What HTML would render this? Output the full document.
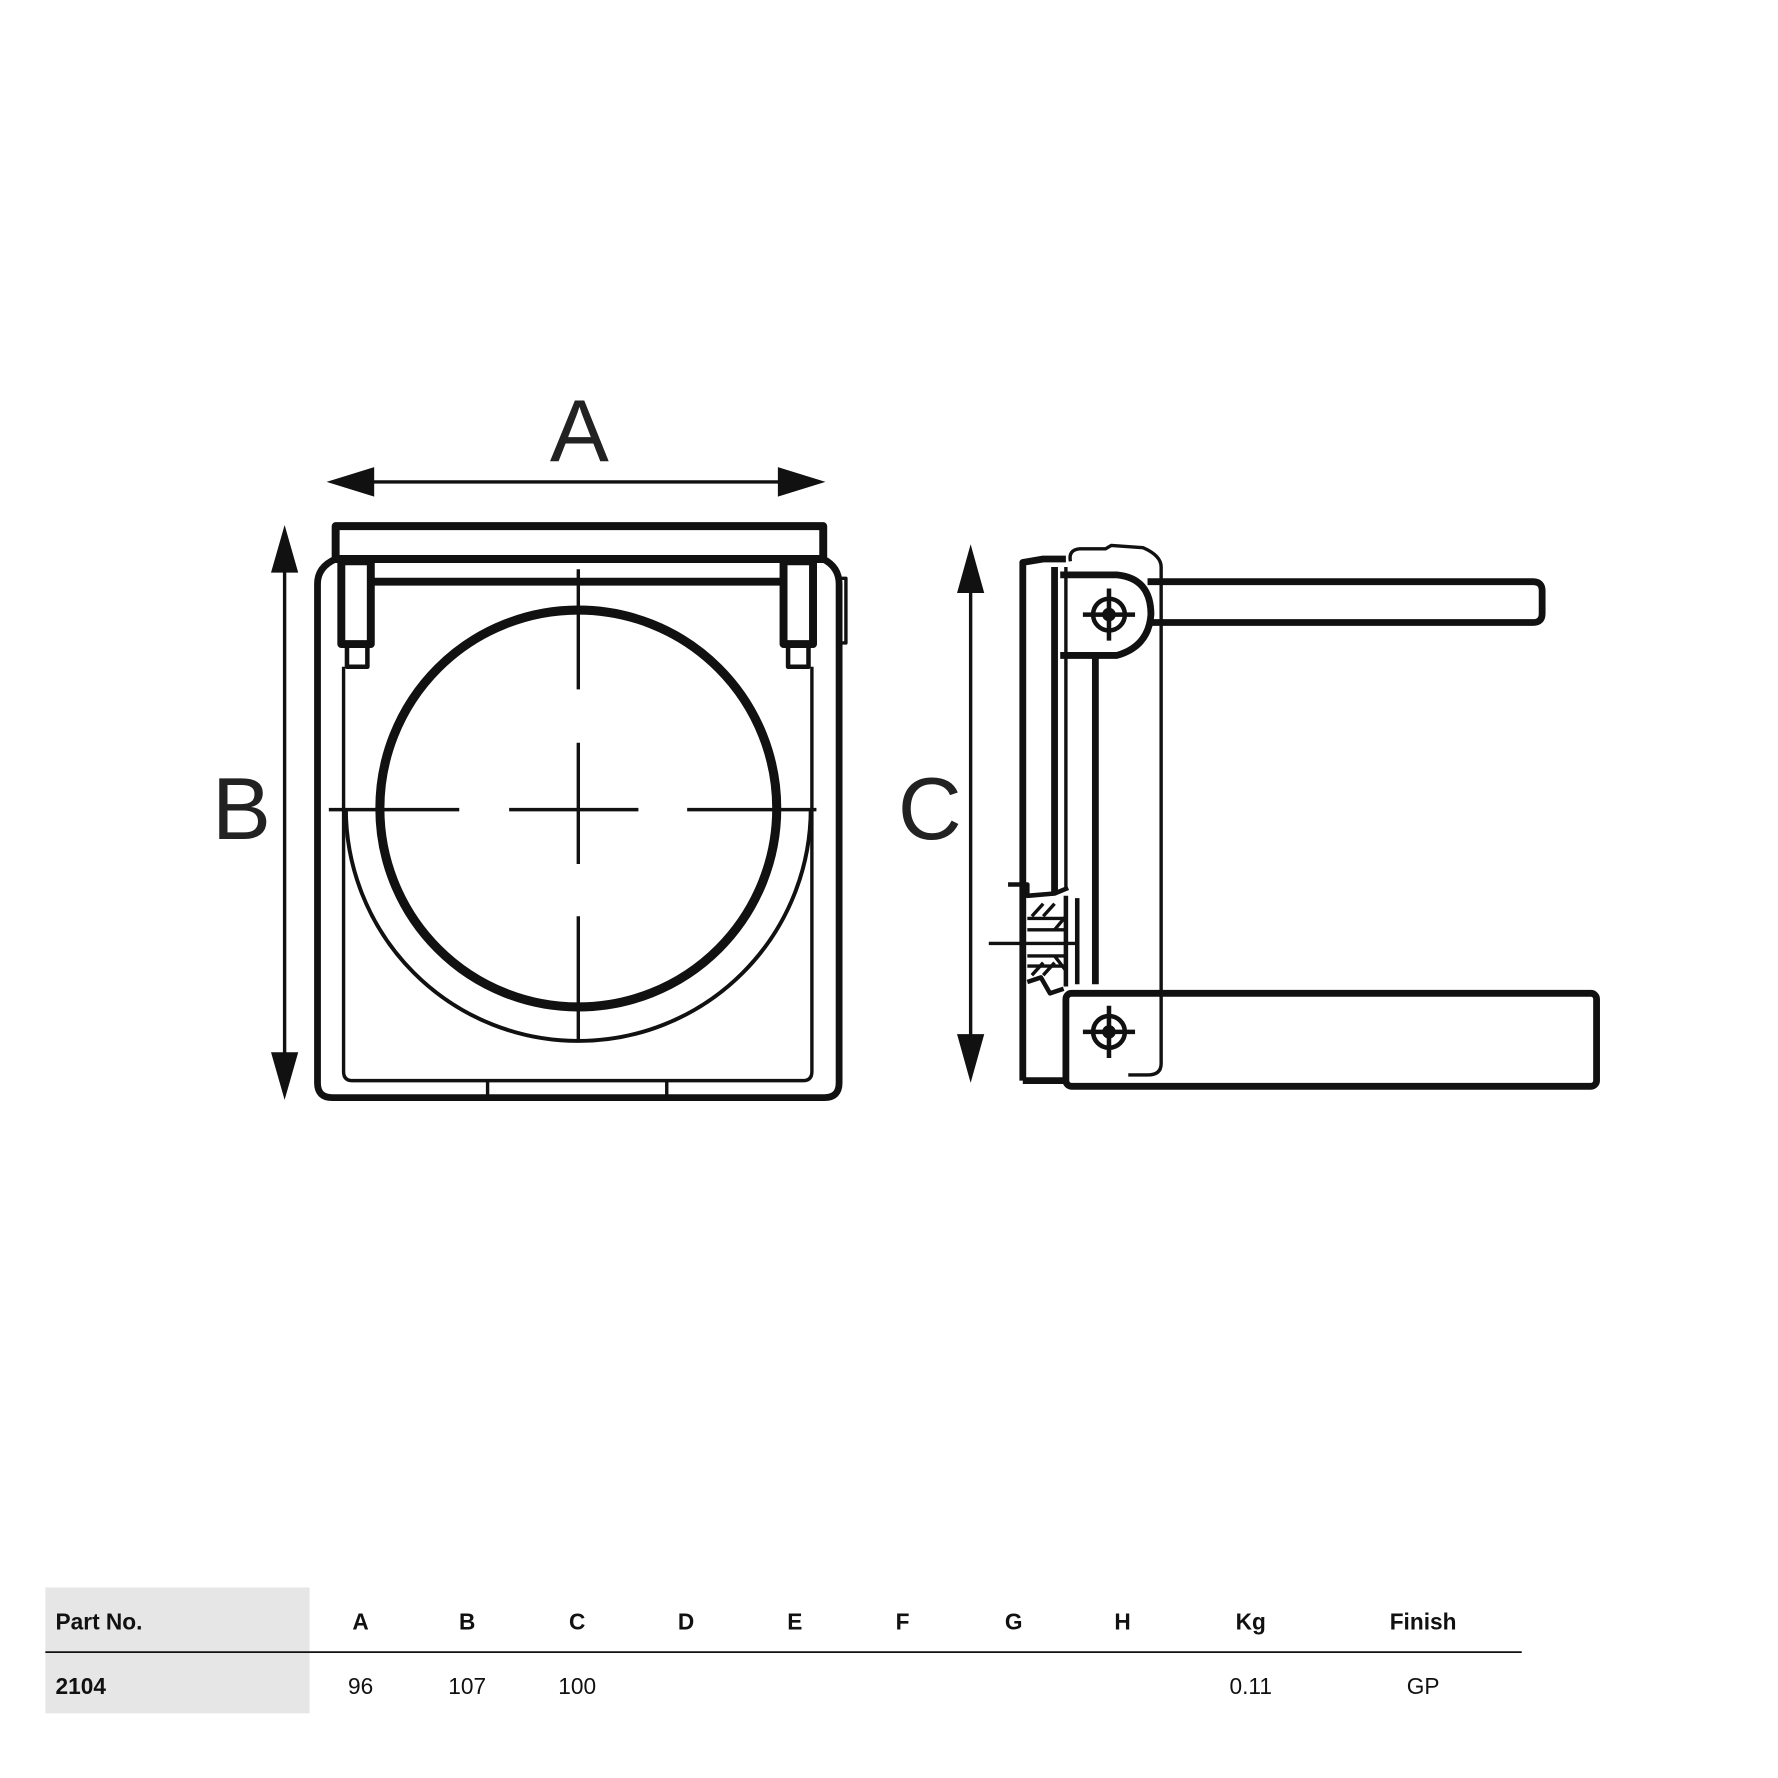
<!DOCTYPE html>
<html><head><meta charset="utf-8"><style>
html,body{margin:0;padding:0;background:#fff;}
svg{display:block;}
</style></head><body>
<svg width="1778" height="1778" viewBox="0 0 1568 1568" xmlns="http://www.w3.org/2000/svg" font-family="Liberation Sans, sans-serif">
<g fill="none" stroke="#111" stroke-linejoin="round">
<line x1="320" y1="425" x2="696" y2="425" stroke-width="3"/>
<line x1="251" y1="495" x2="251" y2="938" stroke-width="3"/>
<line x1="856" y1="515" x2="856" y2="922" stroke-width="3"/>
<rect x="296" y="464" width="430" height="29" stroke-width="7"/>
<path d="M296,493 Q280,500 280,515 L280,955 Q280,968 293,968 L727,968 Q740,968 740,955 L740,515 Q740,500 726,493" stroke-width="6"/>
<rect x="740" y="510" width="6" height="57" stroke-width="3"/>
<path d="M303,588 L303,945 Q303,953 311,953 L708,953 Q716,953 716,945 L716,588" stroke-width="3"/>
<line x1="327" y1="513" x2="690" y2="513" stroke-width="7"/>
<rect x="301" y="495" width="26" height="73" stroke-width="7"/>
<rect x="306" y="568" width="18" height="20" stroke-width="4"/>
<rect x="691" y="495" width="26" height="73" stroke-width="7"/>
<rect x="695" y="568" width="18" height="20" stroke-width="4"/>
<circle cx="510" cy="713" r="175" stroke-width="8"/>
<path d="M305,713 A205,205 0 0 0 715,713" stroke-width="3.5"/>
<g stroke-width="3">
<line x1="290" y1="714" x2="405" y2="714"/><line x1="449" y1="714" x2="563" y2="714"/><line x1="606" y1="714" x2="720" y2="714"/>
<line x1="510" y1="502" x2="510" y2="608"/><line x1="510" y1="655" x2="510" y2="762"/><line x1="510" y1="808" x2="510" y2="918"/>
<line x1="430" y1="953" x2="430" y2="968"/><line x1="588" y1="953" x2="588" y2="968"/>
</g>
<path d="M902,953 L902,496 L920,493 L940,493" stroke-width="6"/>
<line x1="902" y1="953" x2="940" y2="953" stroke-width="6"/>
<path d="M944,495 Q942,485 952,484 L975,484 L980,481 L1008,483 Q1024,490 1024,500 L1024,938 Q1024,948 1012,948 L995,948" stroke-width="3"/>
<line x1="930" y1="500" x2="930" y2="788" stroke-width="6"/>
<line x1="940" y1="500" x2="940" y2="783" stroke-width="3"/>
<path d="M935,507 L985,507 Q1015,510 1015,542 Q1013,570 985,578 L935,578" stroke-width="6"/>
<path d="M1012,513 L1352,513 Q1360,513 1360,521 L1360,541 Q1360,549 1352,549 L1015,549" stroke-width="6"/>
<line x1="966" y1="578" x2="966" y2="868" stroke-width="6"/>
<rect x="940" y="876" width="468" height="82" rx="5" stroke-width="6"/>
<path d="M889,780 L906,780 L906,790 L930,788 L942,783" stroke-width="4"/>
<line x1="940" y1="790" x2="940" y2="870" stroke-width="4"/>
<line x1="950" y1="792" x2="950" y2="868" stroke-width="4"/>
<line x1="872" y1="832" x2="950" y2="832" stroke-width="3"/>
<path d="M906,810 L940,810 M906,820 L940,820 M906,843 L940,843 M906,852 L940,852" stroke-width="3"/>
<path d="M910,808 L920,797 M920,808 L930,797 M910,860 L920,849 M920,860 L930,849 M930,820 L940,808 M930,843 L940,856" stroke-width="3"/>
<path d="M906,866 L918,862 L926,876 L938,872" stroke-width="4"/>
<g stroke-width="4">
<circle cx="978" cy="542" r="14"/><line x1="955" y1="542" x2="1001" y2="542"/><line x1="978" y1="519" x2="978" y2="565"/>
<circle cx="978" cy="910" r="14"/><line x1="955" y1="910" x2="1001" y2="910"/><line x1="978" y1="887" x2="978" y2="933"/>
</g>
</g>
<g fill="#111">
<circle cx="978" cy="542" r="6"/><circle cx="978" cy="910" r="6"/>
<path d="M288,425 L330,412 L330,438 Z"/>
<path d="M728,425 L686,412 L686,438 Z"/>
<path d="M251,463 L239,505 L263,505 Z"/>
<path d="M251,970 L239,928 L263,928 Z"/>
<path d="M856,480 L844,523 L868,523 Z"/>
<path d="M856,955 L844,912 L868,912 Z"/>
</g>
<g fill="#222" font-size="78" text-anchor="middle">
<text x="511" y="407">A</text>
<text x="213" y="740">B</text>
<text x="820" y="740">C</text>
</g>
<rect x="40" y="1400" width="233" height="111" fill="#e6e6e6"/>
<line x1="40" y1="1457" x2="1342" y2="1457" stroke="#111" stroke-width="1.5"/>
<g font-size="20" fill="#111">
<g font-weight="bold">
<text x="49" y="1437">Part No.</text>
<text x="49" y="1494">2104</text>
<g text-anchor="middle">
<text x="318" y="1437">A</text><text x="412" y="1437">B</text><text x="509" y="1437">C</text><text x="605" y="1437">D</text><text x="701" y="1437">E</text><text x="796" y="1437">F</text><text x="894" y="1437">G</text><text x="990" y="1437">H</text><text x="1103" y="1437">Kg</text><text x="1255" y="1437">Finish</text>
</g></g>
<g text-anchor="middle">
<text x="318" y="1494">96</text><text x="412" y="1494">107</text><text x="509" y="1494">100</text><text x="1103" y="1494">0.11</text><text x="1255" y="1494">GP</text>
</g>
</g>
</svg>
</body></html>
